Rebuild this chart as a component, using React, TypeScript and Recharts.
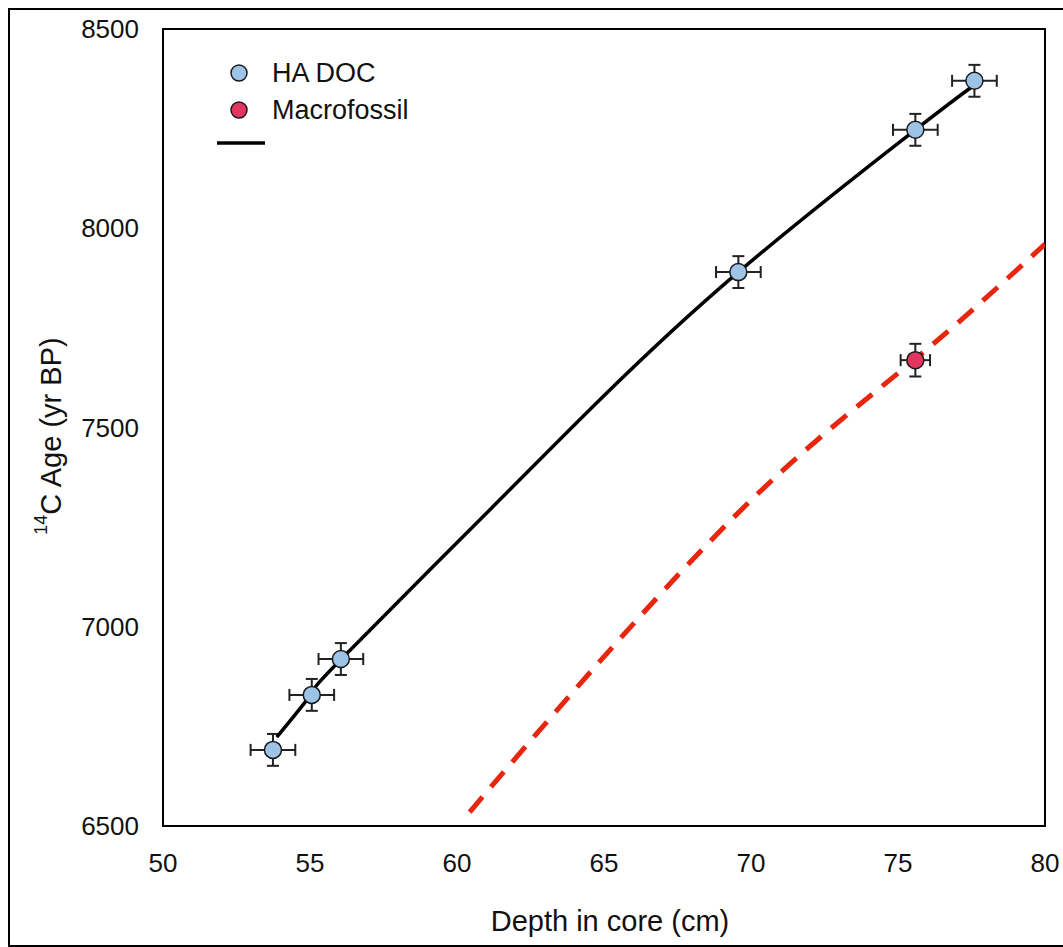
import React from 'react';
import {
  ComposedChart,
  Scatter,
  Line,
  XAxis,
  YAxis,
  ErrorBar,
  ReferenceArea,
  Legend,
} from 'recharts';

// HA DOC radiocarbon dates
const haDepth = [53.74, 55.06, 56.05, 69.57, 75.59, 77.6];
const haAge = [6691, 6829, 6919, 7890, 8247, 8370];
const haDepthErr = [0.76, 0.76, 0.76, 0.76, 0.76, 0.76];
const haAgeErr = [40, 40, 40, 40, 40, 40];

// Macrofossil date
const macroDepth = [75.59];
const macroAge = [7669];
const macroDepthErr = [0.5];
const macroAgeErr = [41];

// Fitted curve through HA DOC dates (black)
const fitDepth = [53.87, 55.06, 56.05, 61.11, 64.85, 69.57, 75.59, 77.52];
const fitAge = [6723, 6833, 6918, 7293, 7569, 7890, 8247, 8355];

// Curve through macrofossil (red dashed)
const macroFitDepth = [60.43, 64.51, 70.29, 75.59, 80];
const macroFitAge = [6535, 6884, 7338, 7672, 7960];

const xTicks = [50, 55, 60, 65, 70, 75, 80];
const yTicks = [6500, 7000, 7500, 8000, 8500];
const legendNames = ['HA DOC', 'Macrofossil'];
const legendColors = ['#9DC3E6', '#E23660'];

const haData = haDepth.map((d, i) => ({ depth: d, age: haAge[i], dErr: haDepthErr[i], aErr: haAgeErr[i] }));
const macroData = macroDepth.map((d, i) => ({ depth: d, age: macroAge[i], dErr: macroDepthErr[i], aErr: macroAgeErr[i] }));
const fitData = fitDepth.map((d, i) => ({ depth: d, age: fitAge[i] }));
const macroFitData = macroFitDepth.map((d, i) => ({ depth: d, age: macroFitAge[i] }));

const FONT = 'Arial, "Liberation Sans", sans-serif';

const renderLegend = () => (
  <svg width={280} height={110} style={{ display: 'block' }}>
    {legendNames.map((n, i) => (
      <g key={n}>
        <circle cx={32} cy={18 + 37 * i} r={8} fill={legendColors[i]} stroke="#1a1a1a" strokeWidth={1.5} />
        <text x={65} y={18 + 37 * i} dominantBaseline="central" fontSize={27} fontFamily={FONT} fill="#111">
          {n}
        </text>
      </g>
    ))}
    <line x1={10} x2={58} y1={88} y2={88} stroke="#000" strokeWidth={3.5} />
  </svg>
);

const YLabel = () => (
  <text
    x={41}
    y={426}
    transform="rotate(-90, 41, 426)"
    textAnchor="middle"
    dominantBaseline="central"
    fontFamily={FONT}
    fill="#111"
  >
    <tspan fontSize={18} dy={-10}>14</tspan>
    <tspan fontSize={29} dy={10}>C Age (yr BP)</tspan>
  </text>
);

const makeDot = (fill: string) => (p: any) => (
  <circle cx={p.cx} cy={p.cy} r={8.5} fill={fill} stroke="#1a1a1a" strokeWidth={1.5} />
);

export default function App() {
  return (
    <div style={{ position: 'relative', width: 1063, height: 947, overflow: 'hidden', background: '#fff' }}>
      <style>{'html,body{margin:0;padding:0;overflow:hidden;}'}</style>
      <div
        style={{
          position: 'absolute',
          left: 8,
          top: 8,
          width: 1060,
          height: 939,
          boxSizing: 'border-box',
          borderTop: '2px solid #000',
          borderLeft: '2px solid #000',
          borderBottom: '2px solid #000',
        }}
      >
        <ComposedChart
          width={1053}
          height={934}
          margin={{ top: 19, right: 18, bottom: 38, left: 0 }}
        >
          <XAxis
            type="number"
            dataKey="depth"
            domain={[50, 80]}
            ticks={xTicks}
            interval={0}
            allowDataOverflow
            axisLine={false}
            tickLine={false}
            tickSize={0}
            tickMargin={28}
            height={80}
            tick={{ fill: '#111', fontSize: 26, fontFamily: FONT }}
            label={{
              value: 'Depth in core (cm)',
              position: 'bottom',
              offset: 4,
              dx: 6,
              fontSize: 29,
              fontFamily: FONT,
              fill: '#111',
            }}
          />
          <YAxis
            type="number"
            dataKey="age"
            domain={[6500, 8500]}
            ticks={yTicks}
            interval={0}
            allowDataOverflow
            axisLine={false}
            tickLine={false}
            tickSize={0}
            tickMargin={24}
            width={153}
            tick={{ fill: '#111', fontSize: 26, fontFamily: FONT }}
            label={{ content: () => <YLabel /> }}
          />
          <ReferenceArea
            x1={50}
            x2={80}
            y1={6500}
            y2={8500}
            fill="none"
            fillOpacity={0}
            stroke="#000"
            strokeWidth={2}
            ifOverflow="visible"
          />
          <Scatter
            name="HA DOC"
            data={haData}
            dataKey="age"
            fill={legendColors[0]}
            shape={makeDot(legendColors[0])}
            isAnimationActive={false}
          >
            <ErrorBar dataKey="dErr" direction="x" width={6} stroke="#222" strokeWidth={2} />
            <ErrorBar dataKey="aErr" direction="y" width={6} stroke="#222" strokeWidth={2} />
          </Scatter>
          <Scatter
            name="Macrofossil"
            data={macroData}
            dataKey="age"
            fill={legendColors[1]}
            shape={makeDot(legendColors[1])}
            isAnimationActive={false}
          >
            <ErrorBar dataKey="dErr" direction="x" width={6} stroke="#222" strokeWidth={2} />
            <ErrorBar dataKey="aErr" direction="y" width={6} stroke="#222" strokeWidth={2} />
          </Scatter>
          <Line
            data={fitData}
            dataKey="age"
            type="natural"
            dot={false}
            activeDot={false}
            stroke="#000"
            strokeWidth={3.5}
            legendType="none"
            isAnimationActive={false}
          />
          <Line
            data={macroFitData}
            dataKey="age"
            type="natural"
            dot={false}
            activeDot={false}
            stroke="#E8260E"
            strokeWidth={5}
            strokeDasharray="20 13"
            legendType="none"
            isAnimationActive={false}
          />
          <Legend
            layout="horizontal"
            verticalAlign="middle"
            align="center"
            content={renderLegend}
            wrapperStyle={{ top: 45, left: 197, width: 280, height: 110 }}
          />
        </ComposedChart>
      </div>
    </div>
  );
}
